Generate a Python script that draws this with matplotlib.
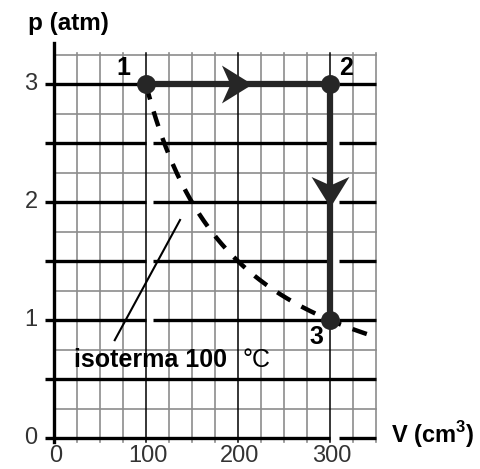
import numpy as np
import matplotlib
matplotlib.use("Agg")
import matplotlib.pyplot as plt
from matplotlib.path import Path

plt.rcParams['font.family'] = ['Liberation Sans', 'DejaVu Sans']

# process states (V in cm3, p in atm)
state_labels = ['1', '2', '3']
state_v = [100, 300, 300]
state_p = [3, 3, 1]

# isotherm p*V = const through state 1
iso_const = 300
iso_v = np.linspace(100, 340, 200)

x_ticks = [0, 100, 200, 300]
y_ticks = [0, 1, 2, 3]

XMAX, YMAX = 350, 3.25

fig = plt.figure(figsize=(4.8, 4.69), dpi=100)
ax = fig.add_axes([54 / 480, 31 / 469, 322 / 480, 383 / 469])
ax.set_xlim(0, XMAX)
ax.set_ylim(0, YMAX)
ax.axis('off')

grey = '#8c8c8c'
# grey grid
for xv in np.arange(25, XMAX + 1, 25):
    if xv % 100 == 0:
        continue
    ax.plot([xv, xv], [-0.03, YMAX + 0.02], color=grey, lw=1.2, clip_on=False, zorder=1)
for yv in np.arange(0.25, YMAX + 0.01, 0.5):
    ax.plot([0, XMAX], [yv, yv], color=grey, lw=1.2, clip_on=False, zorder=1)
# black verticals
for xv in [100, 200, 300]:
    ax.plot([xv, xv], [-0.03, YMAX + 0.02], color='black', lw=1.1, clip_on=False, zorder=2)
# thick horizontals (with the little white gaps of the original)
for yv in np.arange(0, 3.01, 0.5):
    if yv == 0.5:
        segs = [(-10, XMAX)]
    elif yv == 0:
        segs = [(-10, 300), (310, XMAX)]
    else:
        segs = [(-10, 100), (108, 300), (310, XMAX)]
    for a, b in segs:
        ax.plot([a, b], [yv, yv], color='black', lw=2.4, clip_on=False, zorder=2,
                solid_capstyle='butt')
# left axis
ax.plot([0, 0], [-0.03, 3.35], color='black', lw=2.4, clip_on=False, zorder=3)

# tick labels
for yv in y_ticks:
    ax.text(-25, yv, str(yv), ha='center', va='center', fontsize=17, color='#333333')
for xv in x_ticks:
    ax.text(xv + 2, -0.15, str(xv), ha='center', va='center', fontsize=17, color='#333333')

ax.text(16, 3.52, 'p (atm)', ha='center', va='center', fontsize=17.5, fontweight='bold')
ax.text(411, 0.03, 'V (cm$^\\mathregular{3}$)', ha='center', va='center', fontsize=17,
        fontweight='bold')

# isotherm
ax.plot(iso_v, iso_const / iso_v, color='black', lw=3.2, dashes=(3.5, 2.8), zorder=4)
ax.plot([66, 137], [0.83, 1.85], color='black', lw=1.5, zorder=4)
ax.text(22, 0.66, 'isoterma 100', ha='left', va='center', fontsize=18, fontweight='bold')
ax.text(220, 0.66, '°C', ha='center', va='center', fontsize=18)

# process path
pc = '#262626'
ax.plot(state_v, state_p, color=pc, lw=4.5, solid_joinstyle='miter', zorder=5)


def head(angle):
    # barbed arrowhead with its tip at the origin, pointing along angle
    verts = np.array([(0, 0), (-1, 0.62), (-0.72, 0), (-1, -0.62), (0, 0)])
    c, s = np.cos(angle), np.sin(angle)
    verts = verts @ np.array([[c, s], [-s, c]])
    codes = [Path.MOVETO, Path.LINETO, Path.LINETO, Path.LINETO, Path.CLOSEPOLY]
    return Path(verts, codes)


for i, f in [(0, 0.575), (1, 0.52)]:
    x0, y0, x1, y1 = state_v[i], state_p[i], state_v[i + 1], state_p[i + 1]
    ang = 0 if y0 == y1 else -np.pi / 2
    ax.plot([x0 + f * (x1 - x0)], [y0 + f * (y1 - y0)], marker=head(ang), ms=44,
            color=pc, mew=0, zorder=6)
ax.scatter(state_v, state_p, s=185, color=pc, zorder=7, linewidths=0)

label_pos = [(75, 3.14), (317, 3.14), (285, 0.86)]
for lab, (lx, ly) in zip(state_labels, label_pos):
    ax.text(lx, ly, lab, ha='center', va='center', fontsize=18, fontweight='bold')

fig.savefig('out.png', dpi=100)
